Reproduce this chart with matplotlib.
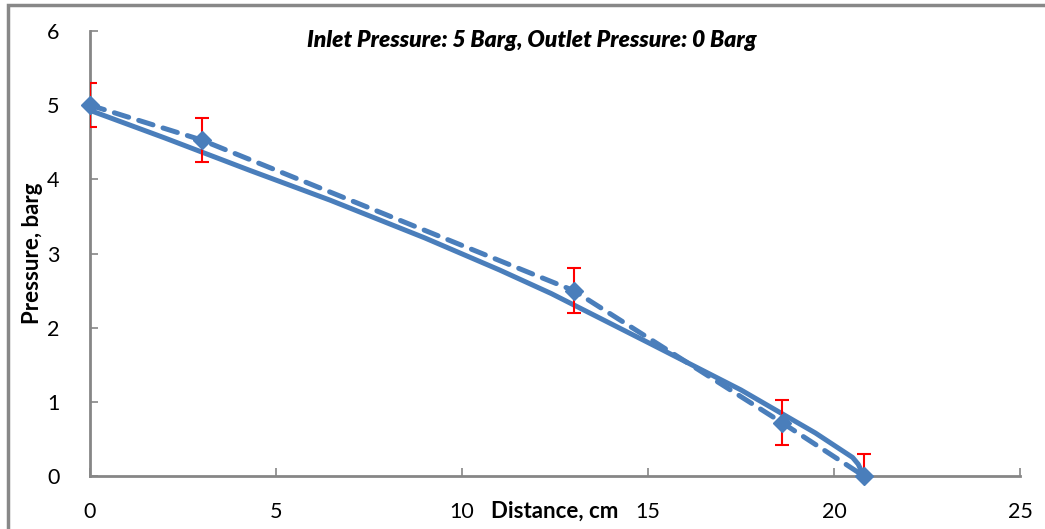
import matplotlib
matplotlib.use("Agg")
import matplotlib.pyplot as plt
from matplotlib.patches import Rectangle

# measured points (dashed line with markers)
distance = [0, 3, 13, 18.6, 20.8]
pressure = [5.0, 4.53, 2.5, 0.72, 0.0]
err = [0.3, 0.3, 0.3, 0.3, 0.3]

# model curve (solid line)
model_x = [0, 2, 4.3, 6.45, 9, 11, 12.4, 15, 17.5, 19.5, 20.5, 20.65, 20.8]
model_p = [4.93, 4.56, 4.12, 3.72, 3.21, 2.78, 2.46, 1.80, 1.16, 0.58, 0.25, 0.16, 0.0]

blue = "#4A7EBB"
grey = "#868686"

plt.rcParams["font.family"] = ["Lato", "DejaVu Sans"]

fig = plt.figure(figsize=(10.45, 5.29), dpi=100, facecolor="white")
ax = fig.add_axes([90 / 1045, 53 / 529, 930 / 1045, 445 / 529])

ax.plot(model_x, model_p, color=blue, linewidth=3.6, solid_capstyle="round",
        solid_joinstyle="round", zorder=3)
ax.plot(distance, pressure, color=blue, linewidth=3.6, linestyle=(0, (3, 2.1)),
        dash_capstyle="round", zorder=3)
ax.errorbar(distance, pressure, yerr=err, fmt="none", ecolor="red",
            elinewidth=1.5, capsize=5, capthick=1.5, zorder=4)
ax.plot(distance, pressure, linestyle="none", marker="D", markersize=9.5,
        color=blue, clip_on=False, zorder=5)

ax.set_xlim(0, 25)
ax.set_ylim(0, 6)
ax.set_xticks([0, 5, 10, 15, 20, 25])
ax.set_yticks([0, 1, 2, 3, 4, 5, 6])

for s in ["top", "right"]:
    ax.spines[s].set_visible(False)
for s in ["left", "bottom"]:
    ax.spines[s].set_color(grey)
    ax.spines[s].set_linewidth(2)

ax.tick_params(direction="in", length=6, width=1.2, color=grey,
               labelsize=15.5, labelcolor="black")
ax.tick_params(axis="x", pad=19)
ax.tick_params(axis="y", pad=22)

ax.set_xlabel("Distance, cm", fontsize=16, fontweight="bold")
ax.xaxis.set_label_coords(0.5, -0.056)
ax.set_ylabel("Pressure, barg", fontsize=16, fontweight="bold")
ax.yaxis.set_label_coords(-0.051, 0.5)

ax.text(0.475, 0.978, "Inlet Pressure: 5 Barg, Outlet Pressure: 0 Barg",
        transform=ax.transAxes, ha="center", va="center", fontsize=16.5,
        fontweight="heavy", fontstyle="italic")

fig.patches.append(Rectangle((8 / 1045, -0.1), 1.2, 524 / 529 + 0.1,
                             transform=fig.transFigure, fill=False,
                             edgecolor="#888888", linewidth=2.5))

fig.savefig("out.png", dpi=100, facecolor="white")
